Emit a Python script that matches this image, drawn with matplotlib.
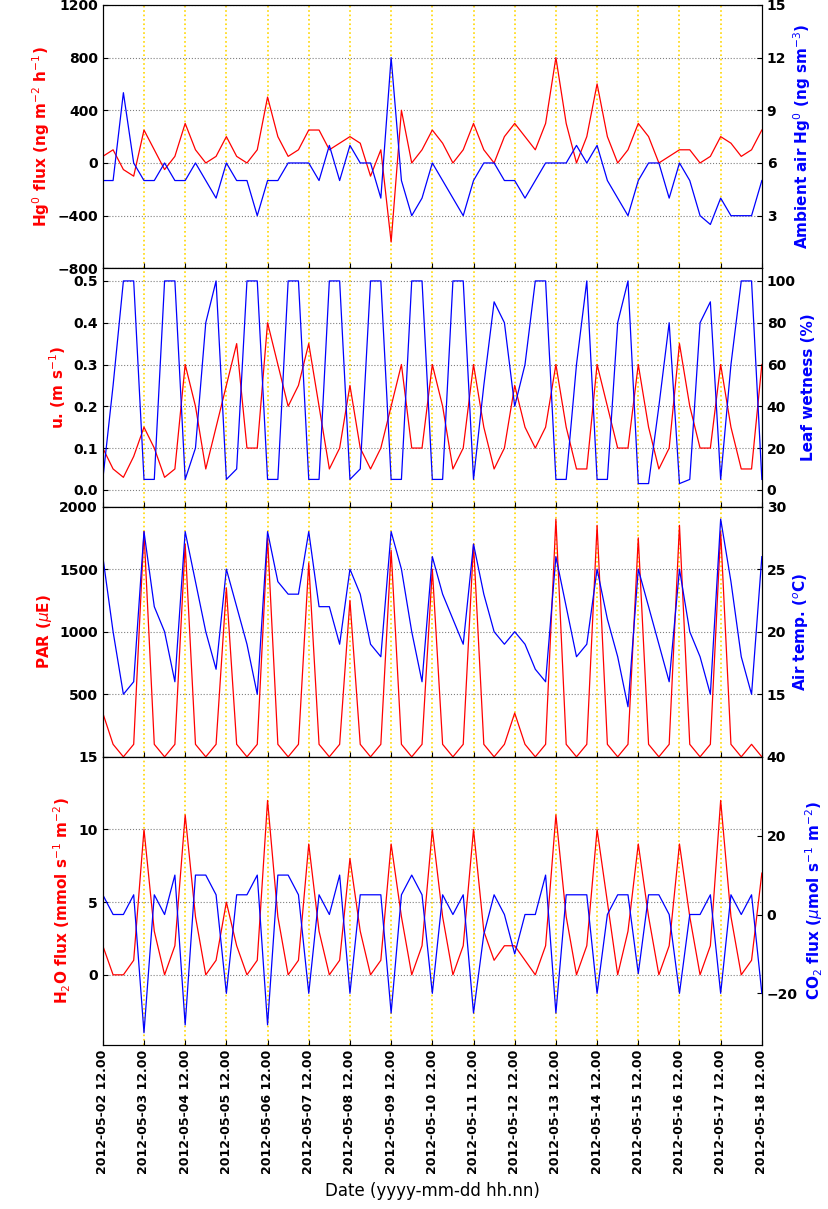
import numpy as np
import pandas as pd
import matplotlib
matplotlib.use("Agg")
import matplotlib.pyplot as plt

# 6-hourly readings starting 2012-05-02 12:00 (12, 18, 00, 06 per day)
times = pd.date_range("2012-05-02 12:00", "2012-05-18 12:00", freq="6h")

hg_flux = [50, 100, -50, -100, 250, 100, -50, 50, 300, 100, 0, 50, 200, 50, 0, 100,
           500, 200, 50, 100, 250, 250, 100, 150, 200, 150, -100, 100, -600, 400, 0, 100,
           250, 150, 0, 100, 300, 100, 0, 200, 300, 200, 100, 300, 800, 300, 0, 200,
           600, 200, 0, 100, 300, 200, 0, 50, 100, 100, 0, 50, 200, 150, 50, 100, 250]
hg_air = [5, 5, 10, 6, 5, 5, 6, 5, 5, 6, 5, 4, 6, 5, 5, 3,
          5, 5, 6, 6, 6, 5, 7, 5, 7, 6, 6, 4, 12, 5, 3, 4,
          6, 5, 4, 3, 5, 6, 6, 5, 5, 4, 5, 6, 6, 6, 7, 6,
          7, 5, 4, 3, 5, 6, 6, 4, 6, 5, 3, 2.5, 4, 3, 3, 3, 5]
ustar = [0.1, 0.05, 0.03, 0.08, 0.15, 0.1, 0.03, 0.05, 0.3, 0.2, 0.05, 0.15, 0.25, 0.35, 0.1, 0.1,
         0.4, 0.3, 0.2, 0.25, 0.35, 0.2, 0.05, 0.1, 0.25, 0.1, 0.05, 0.1, 0.2, 0.3, 0.1, 0.1,
         0.3, 0.2, 0.05, 0.1, 0.3, 0.15, 0.05, 0.1, 0.25, 0.15, 0.1, 0.15, 0.3, 0.15, 0.05, 0.05,
         0.3, 0.2, 0.1, 0.1, 0.3, 0.15, 0.05, 0.1, 0.35, 0.2, 0.1, 0.1, 0.3, 0.15, 0.05, 0.05, 0.3]
leaf_wet = [5, 50, 100, 100, 5, 5, 100, 100, 5, 20, 80, 100, 5, 10, 100, 100,
            5, 5, 100, 100, 5, 5, 100, 100, 5, 10, 100, 100, 5, 5, 100, 100,
            5, 5, 100, 100, 5, 50, 90, 80, 40, 60, 100, 100, 5, 5, 60, 100,
            5, 5, 80, 100, 3, 3, 40, 80, 3, 5, 80, 90, 5, 60, 100, 100, 5]
par = [350, 100, 0, 100, 1800, 100, 0, 100, 1700, 100, 0, 100, 1350, 100, 0, 100,
       1750, 100, 0, 100, 1550, 100, 0, 100, 1250, 100, 0, 100, 1650, 100, 0, 100,
       1500, 100, 0, 100, 1700, 100, 0, 100, 350, 100, 0, 100, 1900, 100, 0, 100,
       1850, 100, 0, 100, 1750, 100, 0, 100, 1850, 100, 0, 100, 1800, 100, 0, 100, 0]
air_temp = [26, 20, 15, 16, 28, 22, 20, 16, 28, 24, 20, 17, 25, 22, 19, 15,
            28, 24, 23, 23, 28, 22, 22, 19, 25, 23, 19, 18, 28, 25, 20, 16,
            26, 23, 21, 19, 27, 23, 20, 19, 20, 19, 17, 16, 26, 22, 18, 19,
            25, 21, 18, 14, 25, 22, 19, 16, 25, 20, 18, 15, 29, 24, 18, 15, 26]
h2o = [2, 0, 0, 1, 10, 3, 0, 2, 11, 4, 0, 1, 5, 2, 0, 1,
       12, 4, 0, 1, 9, 3, 0, 1, 8, 3, 0, 1, 9, 4, 0, 2,
       10, 4, 0, 2, 10, 3, 1, 2, 2, 1, 0, 2, 11, 4, 0, 2,
       10, 5, 0, 3, 9, 4, 0, 2, 9, 4, 0, 2, 12, 4, 0, 1, 7]
co2 = [5, 0, 0, 5, -30, 5, 0, 10, -28, 10, 10, 5, -20, 5, 5, 10,
       -28, 10, 10, 5, -20, 5, 0, 10, -20, 5, 5, 5, -25, 5, 10, 5,
       -20, 5, 0, 5, -25, -5, 5, 0, -10, 0, 0, 10, -25, 5, 5, 5,
       -20, 0, 5, 5, -15, 5, 5, 0, -20, 0, 0, 5, -20, 5, 0, 5, -20]

ticks = pd.date_range("2012-05-02 12:00", "2012-05-18 12:00", freq="D")

fig = plt.figure(figsize=(8.29, 12.09), dpi=100)
L, W = 0.124, 0.795
panels = [(0.778, 0.218), (0.581, 0.197), (0.374, 0.207), (0.136, 0.238)]

specs = [
    (hg_flux, hg_air, (-800, 1200), np.arange(-800, 1201, 400), (0, 15), [3, 6, 9, 12, 15],
     "Hg$^0$ flux (ng m$^{-2}$ h$^{-1}$)", "Ambient air Hg$^0$ (ng sm$^{-3}$)"),
    (ustar, leaf_wet, (-0.04, 0.53), np.arange(0, 0.51, 0.1), (-8, 106), np.arange(0, 101, 20),
     "u. (m s$^{-1}$)", "Leaf wetness (%)"),
    (par, air_temp, (0, 2000), [500, 1000, 1500, 2000], (10, 30), [15, 20, 25, 30],
     "PAR ($\\mu$E)", "Air temp. ($^o$C)"),
    (h2o, co2, (-4.8, 15), [0, 5, 10, 15], (-33, 40), [-20, 0, 20, 40],
     "H$_2$O flux (mmol s$^{-1}$ m$^{-2}$)", "CO$_2$ flux ($\\mu$mol s$^{-1}$ m$^{-2}$)"),
]

for k, ((b, h), (red, blue, yl, yt, yr, yrt, lab_l, lab_r)) in enumerate(zip(panels, specs)):
    ax = fig.add_axes([L, b, W, h])
    ax.plot(times, red, color="red", lw=0.9, zorder=3)
    ax.set_ylim(*yl)
    ax.set_yticks(yt)
    ax.set_xlim(ticks[0], ticks[-1])
    ax.grid(axis="y", color="gray", ls=":", lw=0.8)
    for t in ticks[1:-1]:
        ax.axvline(t, color="gold", ls=":", lw=1.2, zorder=1)
    ax.set_ylabel(lab_l, color="red", fontsize=11, fontweight="bold")
    ax.tick_params(direction="in", labelsize=10)
    for lbl in ax.get_yticklabels():
        lbl.set_fontweight("bold")
    ax2 = ax.twinx()
    ax2.plot(times, blue, color="blue", lw=0.9, zorder=2)
    ax2.set_ylim(*yr)
    ax2.set_yticks(yrt)
    ax2.set_ylabel(lab_r, color="blue", fontsize=11, fontweight="bold")
    ax2.tick_params(direction="in", labelsize=10)
    for lbl in ax2.get_yticklabels():
        lbl.set_fontweight("bold")
    ax.set_xticks(ticks)
    if k < 3:
        ax.set_xticklabels([])
    else:
        ax.set_xticklabels([t.strftime("%Y-%m-%d %H.%M") for t in ticks],
                           rotation=90, fontsize=9, fontweight="bold")
        ax.set_xlabel("Date (yyyy-mm-dd hh.nn)", fontsize=12, labelpad=6)

fig.savefig("out.png", dpi=100)
